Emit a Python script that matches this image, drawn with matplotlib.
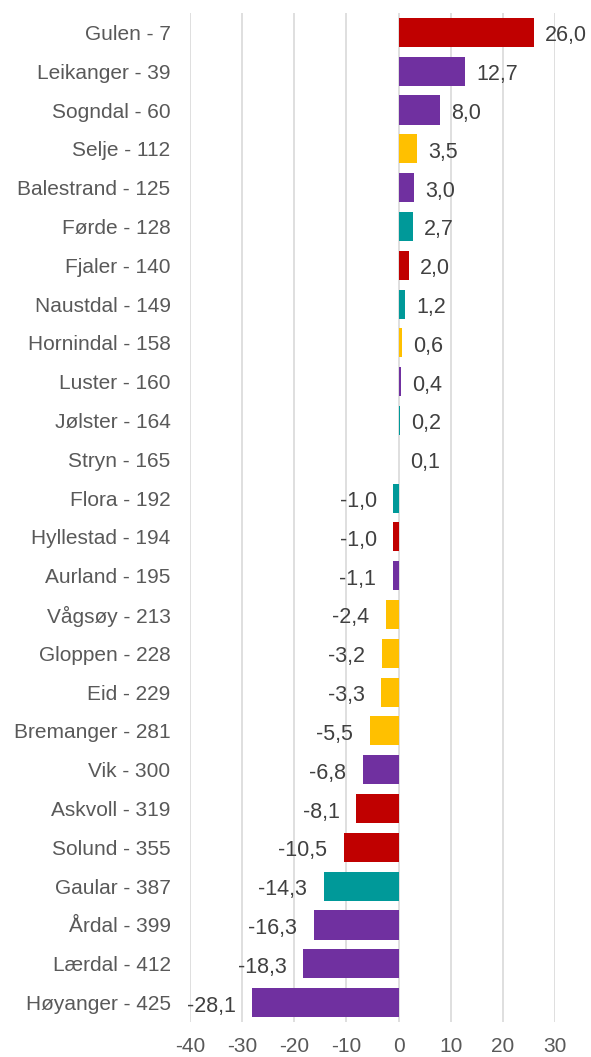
import matplotlib
matplotlib.use("Agg")
import matplotlib.pyplot as plt

categories = ["Gulen - 7", "Leikanger - 39", "Sogndal - 60", "Selje - 112", "Balestrand - 125",
              "Førde - 128", "Fjaler - 140", "Naustdal - 149", "Hornindal - 158", "Luster - 160",
              "Jølster - 164", "Stryn - 165", "Flora - 192", "Hyllestad - 194", "Aurland - 195",
              "Vågsøy - 213", "Gloppen - 228", "Eid - 229", "Bremanger - 281", "Vik - 300",
              "Askvoll - 319", "Solund - 355", "Gaular - 387", "Årdal - 399", "Lærdal - 412",
              "Høyanger - 425"]
values = [26.0, 12.7, 8.0, 3.5, 3.0, 2.7, 2.0, 1.2, 0.6, 0.4, 0.2, 0.1, -1.0, -1.0, -1.1,
          -2.4, -3.2, -3.3, -5.5, -6.8, -8.1, -10.5, -14.3, -16.3, -18.3, -28.1]
regions = ["r", "p", "p", "g", "p", "t", "r", "t", "g", "p", "t", "g", "t", "r", "p",
           "g", "g", "g", "g", "p", "r", "r", "t", "p", "p", "p"]
xticks = [-40, -30, -20, -10, 0, 10, 20, 30]

cmap = {"r": "#C00000", "p": "#7030A0", "g": "#FFC000", "t": "#009999"}
colors = [cmap[r] for r in regions]

plt.rcParams['font.family'] = ['Liberation Sans', 'DejaVu Sans']
fig = plt.figure(figsize=(5.91, 10.57), dpi=100)
ax = fig.add_axes([190/591, 1 - 1022/1057, (555-190)/591, (1022-13)/1057])

y = list(range(len(categories)))
ax.barh(y, values, height=0.75, color=colors, zorder=3)
ax.set_ylim(len(categories) - 0.5, -0.5)
ax.set_xlim(-40, 30)
ax.set_xticks(xticks)
ax.set_xticklabels([str(t) for t in xticks], fontsize=15, color="#595959")
ax.set_yticks(y)
ax.set_yticklabels(categories, fontsize=15, color="#595959")
ax.tick_params(axis="both", length=0)
ax.tick_params(axis="x", pad=10.5)
ax.tick_params(axis="y", pad=14)
ax.grid(axis="x", color="#D9D9D9", linewidth=1.2, zorder=0)
for s in ax.spines.values():
    s.set_visible(False)

for yi, v in zip(y, values):
    lab = f"{v:.1f}".replace(".", ",")
    if v >= 0:
        ax.annotate(lab, (v, yi), xytext=(8, -2.5), textcoords="offset points",
                    ha="left", va="center", fontsize=15.5, color="#404040", zorder=4)
    else:
        ax.annotate(lab, (v, yi), xytext=(-12, -2.5), textcoords="offset points",
                    ha="right", va="center", fontsize=15.5, color="#404040", zorder=4)

fig.savefig("out.png", dpi=100)
